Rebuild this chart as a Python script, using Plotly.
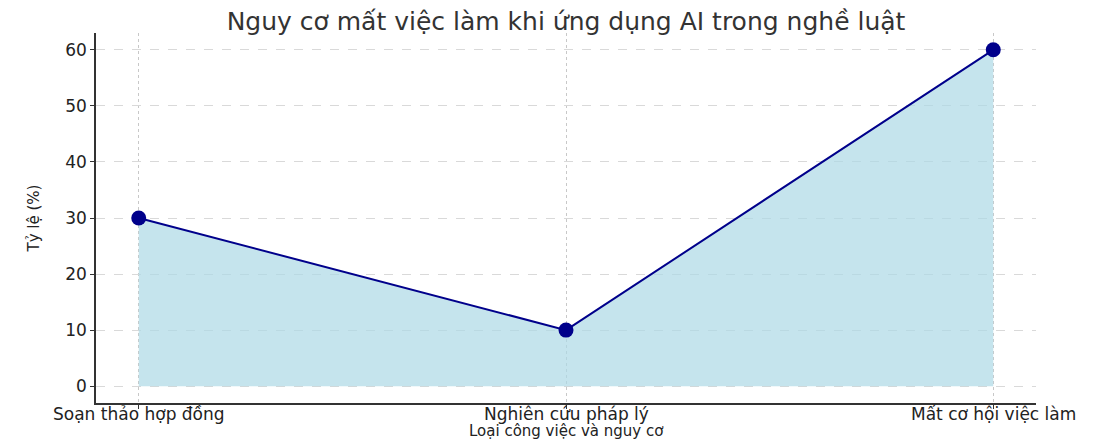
import plotly.graph_objects as go

categories = ["Soạn thảo hợp đồng", "Nghiên cứu pháp lý", "Mất cơ hội việc làm"]
risk_pct = [30, 10, 60]
y_ticks = [0, 10, 20, 30, 40, 50, 60]

FONT = "DejaVu Sans"
_GRID = "#d9d9d9"
_TEXT = "#222222"

fig = go.Figure()

fig.add_trace(
    go.Scatter(
        x=categories,
        y=risk_pct,
        mode="lines+markers",
        fill="tozeroy",
        fillcolor="rgba(173, 216, 230, 0.7)",
        line={"color": "#00008B", "width": 2},
        marker={"color": "#00008B", "size": 15},
        showlegend=False,
    )
)

# x tick labels as annotations so they sit tight under the axis like the source
for cat in categories:
    fig.add_annotation(
        text=cat,
        x=cat,
        xref="x",
        yref="paper",
        y=0,
        yshift=-11,
        xanchor="center",
        yanchor="middle",
        showarrow=False,
        font={"size": 17, "family": FONT, "color": _TEXT},
    )

fig.add_annotation(
    text="Loại công việc và nguy cơ",
    xref="paper",
    yref="paper",
    x=0.5,
    y=0,
    yshift=-28,
    xanchor="center",
    yanchor="middle",
    showarrow=False,
    font={"size": 15, "family": FONT, "color": _TEXT},
)

# page body keeps an 8px default margin, so the figure is shrunk to match
fig.update_layout(
    width=1110,
    height=433,
    margin={"l": 88, "r": 82, "t": 25, "b": 38},
    paper_bgcolor="white",
    plot_bgcolor="white",
    font={"family": FONT, "color": _TEXT},
    title={
        "text": "Nguy cơ mất việc làm khi ứng dụng AI trong nghề luật",
        "x": 0.5,
        "xref": "paper",
        "xanchor": "center",
        "y": 0.97,
        "yanchor": "middle",
        "font": {"size": 25, "family": FONT, "color": "#333333"},
    },
    xaxis={
        "type": "category",
        "range": [-0.1, 2.1],
        "showticklabels": False,
        "showgrid": True,
        "gridcolor": "#c8c8c8",
        "griddash": "dot",
        "gridwidth": 1,
        "showline": True,
        "linecolor": "#333333",
        "linewidth": 1.5,
        "ticks": "outside",
        "ticklen": 4,
        "tickcolor": "#333333",
        "zeroline": False,
        "automargin": False,
    },
    yaxis={
        "range": [-3, 63],
        "tickvals": y_ticks,
        "showgrid": True,
        "gridcolor": _GRID,
        "griddash": "dash",
        "gridwidth": 1,
        "showline": True,
        "linecolor": "#333333",
        "linewidth": 1.5,
        "ticks": "outside",
        "ticklen": 4,
        "tickcolor": "#333333",
        "tickfont": {"size": 17, "family": FONT},
        "title": {"text": "Tỷ lệ (%)", "font": {"size": 15, "family": FONT}, "standoff": 22},
        "zeroline": False,
        "automargin": False,
    },
)

fig.write_html("out.html")
